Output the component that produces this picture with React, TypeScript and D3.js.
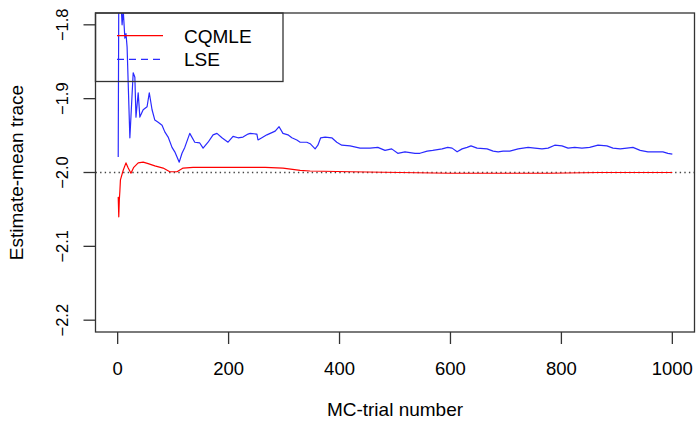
import { useEffect, useRef } from "react";
import * as d3 from "d3";

// running mean of the estimates
const lseTrial = [1, 2, 4, 6, 8, 10, 13, 15, 17, 22, 28, 31, 33, 37, 40, 46, 53, 57, 62, 67, 73, 80, 85, 91, 98, 103, 107, 111, 116, 121, 130, 139, 148, 154, 163, 172, 179, 188, 199, 208, 217, 226, 235, 239, 251, 253, 260, 269, 275, 284, 291, 298, 307, 314, 323, 329, 341, 347, 356, 361, 366, 374, 386, 395, 404, 419, 437, 455, 469, 482, 494, 505, 518, 536, 545, 558, 568, 585, 595, 603, 612, 621, 630, 637, 648, 666, 677, 686, 695, 707, 722, 740, 752, 765, 776, 788, 801, 812, 824, 837, 851, 866, 882, 893, 906, 918, 929, 942, 956, 969, 983, 992, 1000];
const lseValue = [-1.979, -1.76, -1.74, -1.77, -1.8, -1.78, -1.818, -1.812, -1.83, -1.953, -1.865, -1.871, -1.925, -1.892, -1.925, -1.915, -1.911, -1.892, -1.915, -1.929, -1.932, -1.936, -1.945, -1.952, -1.966, -1.972, -1.979, -1.986, -1.974, -1.966, -1.947, -1.959, -1.96, -1.967, -1.959, -1.949, -1.947, -1.953, -1.959, -1.951, -1.953, -1.952, -1.948, -1.947, -1.948, -1.956, -1.953, -1.949, -1.947, -1.944, -1.938, -1.947, -1.949, -1.953, -1.956, -1.959, -1.959, -1.961, -1.968, -1.963, -1.953, -1.952, -1.953, -1.959, -1.963, -1.964, -1.967, -1.967, -1.966, -1.97, -1.968, -1.974, -1.972, -1.974, -1.974, -1.971, -1.97, -1.968, -1.966, -1.967, -1.972, -1.968, -1.966, -1.964, -1.967, -1.968, -1.971, -1.972, -1.971, -1.971, -1.968, -1.966, -1.967, -1.968, -1.967, -1.963, -1.964, -1.967, -1.966, -1.967, -1.966, -1.963, -1.964, -1.967, -1.968, -1.967, -1.966, -1.97, -1.972, -1.972, -1.972, -1.974, -1.975];

const cqmleTrial = [1, 2, 3, 4, 5, 10, 15, 19, 24, 29, 37, 46, 55, 67, 82, 94, 107, 118, 136, 167, 197, 226, 266, 298, 329, 347, 419, 509, 599, 689, 779, 869, 1000];
const cqmleValue = [-2.033, -2.06, -2.037, -2.025, -2.01, -1.997, -1.987, -1.994, -2.001, -1.993, -1.987, -1.986, -1.988, -1.991, -1.994, -1.999, -1.999, -1.994, -1.993, -1.993, -1.993, -1.993, -1.993, -1.994, -1.997, -1.998, -1.999, -2.0, -2.001, -2.001, -2.001, -2.0, -2.0];

const xTicks = [0, 200, 400, 600, 800, 1000];
const yTicks = [-2.2, -2.1, -2.0, -1.9, -1.8];
const legendNames = ["CQMLE", "LSE"];
const trueValue = -2.0;

const App = () => {
  const ref = useRef<SVGSVGElement>(null);

  useEffect(() => {
    const width = 696;
    const height = 422;
    const font = "'Liberation Sans', Arial, Helvetica, sans-serif";

    const x = d3.scaleLinear().domain([-39.96, 1039.96]).range([95.5, 694.5]);
    const y = d3.scaleLinear().domain([-2.216, -1.784]).range([332, 13]);

    const svg = d3.select(ref.current);
    svg.selectAll("*").remove();
    svg.attr("width", width).attr("height", height).style("font-family", font);

    svg
      .append("defs")
      .append("clipPath")
      .attr("id", "plot-clip")
      .append("rect")
      .attr("x", x.range()[0])
      .attr("y", y.range()[1])
      .attr("width", x.range()[1] - x.range()[0])
      .attr("height", y.range()[0] - y.range()[1]);

    const plot = svg.append("g").attr("clip-path", "url(#plot-clip)");

    plot
      .append("line")
      .attr("x1", x.range()[0])
      .attr("x2", x.range()[1])
      .attr("y1", y(trueValue))
      .attr("y2", y(trueValue))
      .attr("stroke", "#444")
      .attr("stroke-width", 1.3)
      .attr("stroke-dasharray", "1.4,3.2");

    const lseLine = d3
      .line<number>()
      .x((d) => x(lseTrial[d]))
      .y((d) => y(lseValue[d]));
    const cqLine = d3
      .line<number>()
      .x((d) => x(cqmleTrial[d]))
      .y((d) => y(cqmleValue[d]));

    plot
      .append("path")
      .attr("d", lseLine(d3.range(lseTrial.length)))
      .attr("fill", "none")
      .attr("stroke", "#2a2aff")
      .attr("stroke-width", 1.2)
      .attr("stroke-linejoin", "round");

    plot
      .append("path")
      .attr("d", cqLine(d3.range(cqmleTrial.length)))
      .attr("fill", "none")
      .attr("stroke", "#ff0000")
      .attr("stroke-width", 1.2)
      .attr("stroke-linejoin", "round");

    // box
    svg
      .append("rect")
      .attr("x", x.range()[0])
      .attr("y", y.range()[1])
      .attr("width", x.range()[1] - x.range()[0])
      .attr("height", y.range()[0] - y.range()[1])
      .attr("fill", "none")
      .attr("stroke", "#333")
      .attr("stroke-width", 1.3);

    // x axis
    const xa = svg.append("g");
    xa.selectAll("line")
      .data(xTicks)
      .enter()
      .append("line")
      .attr("x1", (d) => x(d))
      .attr("x2", (d) => x(d))
      .attr("y1", 332)
      .attr("y2", 344)
      .attr("stroke", "#333")
      .attr("stroke-width", 1.3);
    xa.selectAll("text")
      .data(xTicks)
      .enter()
      .append("text")
      .attr("x", (d) => x(d))
      .attr("y", 375)
      .attr("text-anchor", "middle")
      .attr("font-size", 18.5)
      .text((d) => String(d));

    // y axis
    const ya = svg.append("g");
    ya.selectAll("line")
      .data(yTicks)
      .enter()
      .append("line")
      .attr("x1", 83.5)
      .attr("x2", 95.5)
      .attr("y1", (d) => y(d))
      .attr("y2", (d) => y(d))
      .attr("stroke", "#333")
      .attr("stroke-width", 1.3);
    ya.selectAll("text")
      .data(yTicks)
      .enter()
      .append("text")
      .attr("transform", (d) => `translate(68,${y(d)}) rotate(-90)`)
      .attr("text-anchor", "middle")
      .attr("font-size", 16.5)
      .text((d) => d3.format(".1f")(d));

    svg
      .append("text")
      .attr("x", (x.range()[0] + x.range()[1]) / 2)
      .attr("y", 416)
      .attr("text-anchor", "middle")
      .attr("font-size", 19)
      .text("MC-trial number");

    svg
      .append("text")
      .attr("transform", `translate(23,${(y.range()[0] + y.range()[1]) / 2}) rotate(-90)`)
      .attr("text-anchor", "middle")
      .attr("font-size", 19)
      .text("Estimate-mean trace");

    // legend
    const lg = svg.append("g");
    lg.append("rect")
      .attr("x", 95.5)
      .attr("y", 13)
      .attr("width", 187.5)
      .attr("height", 68.5)
      .attr("fill", "none")
      .attr("stroke", "#333")
      .attr("stroke-width", 1.3);
    const legendColor = ["#ff0000", "#2a2aff"];
    const legendDash = ["none", "7,5"];
    legendNames.forEach((name, i) => {
      const ly = 35.7 + i * 23.6;
      lg.append("line")
        .attr("x1", 117)
        .attr("x2", 163)
        .attr("y1", ly)
        .attr("y2", ly)
        .attr("stroke", legendColor[i])
        .attr("stroke-width", 1.2)
        .attr("stroke-dasharray", legendDash[i]);
      lg.append("text")
        .attr("x", 184)
        .attr("y", ly + 7)
        .attr("font-size", 19)
        .text(name);
    });
  }, []);

  return (
    <div style={{ position: "absolute", left: 0, top: 0 }}>
      <svg ref={ref} />
    </div>
  );
};

export default App;
